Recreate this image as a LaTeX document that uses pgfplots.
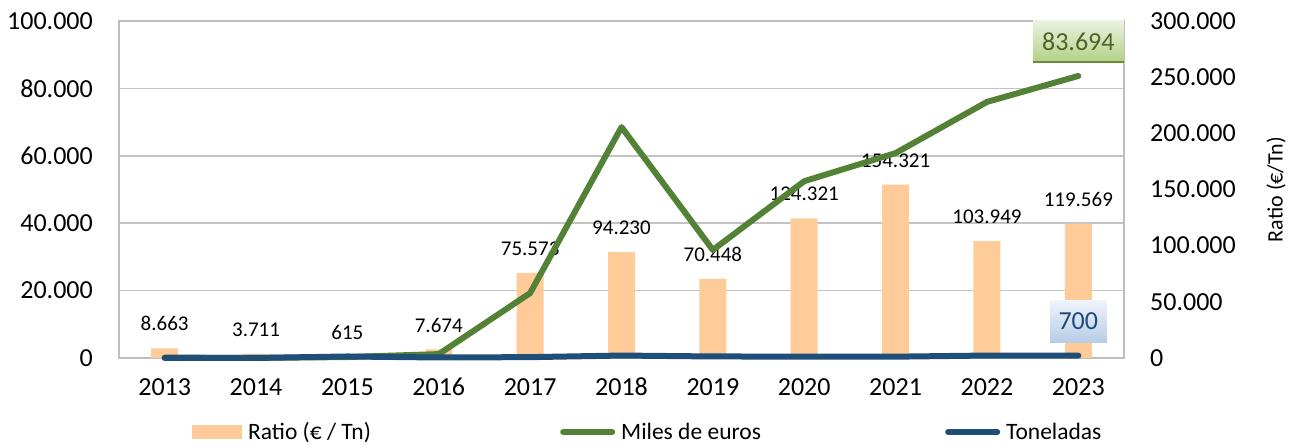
\documentclass[border=0pt]{standalone}
\usepackage{fontspec}
\setmainfont{Carlito}
\usepackage{pgfplots}
\pgfplotsset{compat=1.18}
\definecolor{barc}{RGB}{255,204,153}
\definecolor{greenl}{RGB}{83,129,53}
\definecolor{bluel}{RGB}{31,78,121}
\definecolor{gridc}{RGB}{195,195,195}
\definecolor{framec}{RGB}{190,190,190}
\definecolor{gtxt}{RGB}{79,98,40}
\definecolor{gtop}{RGB}{236,242,224}
\definecolor{gbot}{RGB}{176,208,132}
\definecolor{gedge}{RGB}{110,140,55}
\definecolor{btxt}{RGB}{31,73,125}
\definecolor{btop}{RGB}{240,244,250}
\definecolor{bbot}{RGB}{182,204,230}
\begin{document}
\begin{tikzpicture}
\pgfplotsset{
  common/.style={
    scale only axis, width=1005pt, height=337pt,
    xmin=-0.5, xmax=10.5,
    scaled y ticks=false,
    major tick length=0pt, tick style={draw=none},
    tick label style={font=\fontsize{26}{31}\selectfont, inner sep=0pt},
    yticklabel={\pgfmathprintnumber[fixed, precision=0, 1000 sep={.}, assume math mode=true]{\tick}},
  }
}
% axis 1: left scale, grid, frame, x labels
\begin{axis}[common,
  ymin=0, ymax=100000,
  xtick={0,...,10},
  xticklabels={2013,2014,2015,2016,2017,2018,2019,2020,2021,2022,2023},
  ytick={0,20000,...,100000},
  ymajorgrids, grid style={line width=1.5pt, color=gridc},
  axis line style={line width=2pt, color=framec},
  yticklabel style={anchor=east, xshift=-26pt},
  xticklabel style={anchor=north, yshift=-20pt},
]
\addplot[draw=none] coordinates {(0,0)};
\end{axis}
% axis 2: right scale, bars
\begin{axis}[common,
  ymin=0, ymax=300000,
  axis x line=none, axis y line*=right,
  y axis line style={draw=none},
  ytick={0,50000,...,300000},
  yticklabel style={anchor=west, xshift=26pt},
  ylabel={Ratio (€/Tn)},
  every axis y label/.style={at={(rel axis cs:1,0.5)}, anchor=center, xshift=152pt, rotate=90, font=\fontsize{22}{26}\selectfont},
]
\addplot[ybar, bar width=27pt, fill=barc, draw=none,
  nodes near coords, point meta=explicit symbolic,
  every node near coord/.append style={font=\fontsize{21}{25}\selectfont, inner sep=0pt, anchor=south, yshift=17pt, text=black}]
coordinates {
(0,8663) [8.663]
(1,3711) [3.711]
(2,615) [615]
(3,7674) [7.674]
(4,75573) [75.573]
(5,94230) [94.230]
(6,70448) [70.448]
(7,124321) [124.321]
(8,154321) [154.321]
(9,103949) [103.949]
(10,119569) [119.569]
};
\end{axis}
% axis 3: left scale, lines + legend
\begin{axis}[common,
  ymin=0, ymax=100000, hide axis, clip=false,
  legend columns=3,
  legend style={at={(0.0726,-0.2196)}, anchor=west, draw=none, fill=none, inner sep=0pt,
    column sep=6pt, font=\fontsize{23.5}{28}\selectfont, nodes={inner sep=0pt}},
]
\addlegendimage{legend image code/.code={\fill[barc, draw=none] (0pt,-7pt) rectangle (50pt,7pt);}}
\addlegendentry{\makebox[306pt][l]{Ratio (€ / Tn)}}
\addplot[greenl, line width=6pt, line cap=round, line join=round, mark=none,
  legend image code/.code={\path[draw=none, fill=none] (0pt,-7pt) rectangle (55pt,7pt); \draw[greenl, line width=6pt, line cap=round] (3pt,0pt) -- (52pt,0pt);}]
coordinates {
(0,104) (1,37) (2,277) (3,1151) (4,19271) (5,68505) (6,32054) (7,52463) (8,60802) (9,75987) (10,83694)
};
\addlegendentry{\makebox[318pt][l]{Miles de euros}}
\addplot[bluel, line width=6pt, line cap=round, line join=round, mark=none,
  legend image code/.code={\path[draw=none, fill=none] (0pt,-7pt) rectangle (55pt,7pt); \draw[bluel, line width=6pt, line cap=round] (3pt,0pt) -- (52pt,0pt);}]
coordinates {
(0,12) (1,10) (2,450) (3,150) (4,255) (5,727) (6,455) (7,422) (8,394) (9,731) (10,700)
};
\addlegendentry{Toneladas}
\addplot[draw=none, mark=none, forget plot, nodes near coords, point meta=explicit symbolic,
  every node near coord/.append style={font=\fontsize{26}{31}\selectfont, inner sep=0pt,
    minimum width=91pt, minimum height=42pt, anchor=south, yshift=13pt,
    text=gtxt, top color=gtop, bottom color=gbot,
    path picture={\draw[line width=3pt, gedge] (path picture bounding box.south west) -- (path picture bounding box.south east);}}]
coordinates {(10,83694) [83.694]};
\addplot[draw=none, mark=none, forget plot, nodes near coords, point meta=explicit symbolic,
  every node near coord/.append style={font=\fontsize{26}{31}\selectfont, inner sep=0pt,
    minimum width=57pt, minimum height=42pt, anchor=south, yshift=13pt,
    text=btxt, top color=btop, bottom color=bbot}]
coordinates {(10,700) [700]};
\end{axis}
\pgfresetboundingbox
\path[use as bounding box] (-119pt,-88pt) rectangle (1178pt,358pt);
\end{tikzpicture}
\end{document}
